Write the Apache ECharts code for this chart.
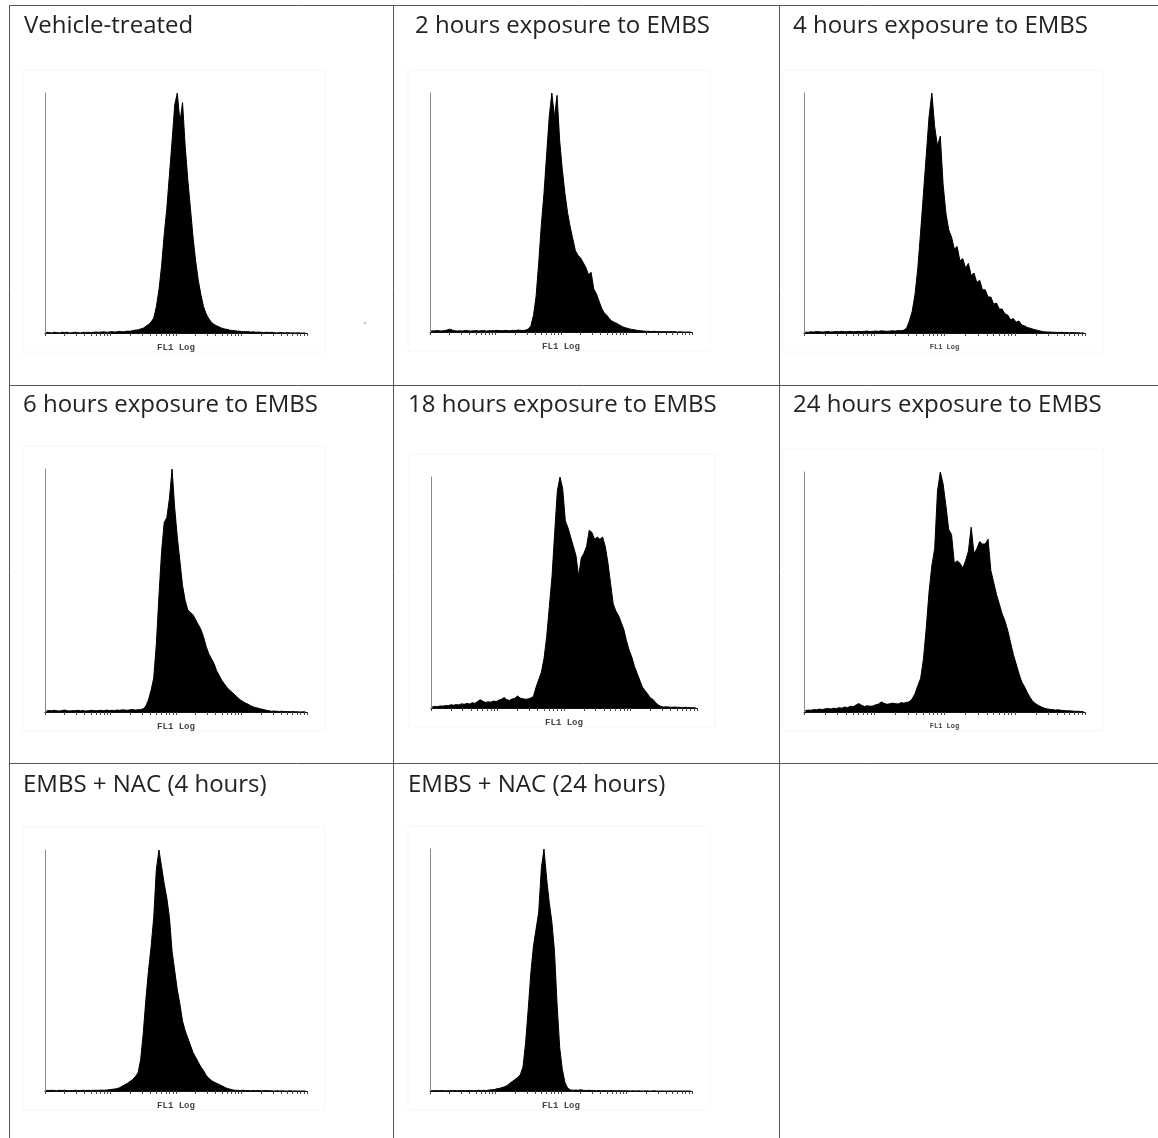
<!DOCTYPE html>
<html><head><meta charset="utf-8">
<script src="https://cdn.jsdelivr.net/npm/echarts@6/dist/echarts.min.js"></script>
<style>html,body{margin:0;padding:0;background:#fff}#c{width:1158px;height:1138px}</style>
</head><body><div id="c"></div>
<script>
// Panel titles
const titles = [
  'Vehicle-treated', '2 hours exposure to EMBS', '4 hours exposure to EMBS',
  '6 hours exposure to EMBS', '18 hours exposure to EMBS', '24 hours exposure to EMBS',
  'EMBS + NAC (4 hours)', 'EMBS + NAC (24 hours)'
];
const axisName = 'FL1 Log';
// Decades of the log FL1 axis (10^0 .. 10^4)
const decades = [0, 1, 2, 3, 4];

// Histogram counts (% of peak), 100 log-spaced channels each
const vehicle = [
  0.3,0.2,0,0.3,0.2,0,0.3,0.2,0.3,0,
  0.2,0.3,0.2,0,0.3,0.2,0.3,0.2,0.3,0.4,
  0.3,0.4,0.5,0.3,0.4,0.6,0.4,0.5,0.7,0.5,
  0.6,0.8,0.7,1.0,1.2,1.3,1.7,2.0,2.8,3.5,
  4.6,6.2,11,18,28,41,52,66,80,95,
  100,88,96,78,64,52,40,30,22,16,
  11,8,6,4.5,3.6,3,2.5,2,1.7,1.5,
  1.2,1,0.9,0.8,0.7,0.6,0.5,0.6,0.4,0.5,
  0.3,0.4,0.3,0.2,0.3,0.2,0.3,0.2,0,0.2,
  0.2,0,0.2,0,0.1,0,0.1,0,0,0
];
const embs2h = [
  0.5,0.4,0.6,0.5,0.4,0.6,0.8,1.2,0.8,0.5,
  0.4,0.5,0.4,0.6,0.5,0.4,0.5,0.6,0.4,0.5,
  0.6,0.4,0.5,0.6,0.5,0.7,0.6,0.5,0.7,0.6,
  0.5,0.7,0.6,0.8,0.7,0.6,0.8,1.2,2.5,7,
  15,29,45,58,74,90,100,90,99,80,
  68,58,50,44,39,34,32,31,29,27,
  24,25,18,16,13,10,8,7,5.5,4.5,
  4,3.5,2.8,2.2,1.8,1.5,1.2,1,0.8,0.6,
  0.5,0.4,0.3,0.3,0.2,0.3,0.2,0.2,0.1,0.2,
  0.1,0.1,0.2,0.1,0,0.1,0,0,0,0
];
const embs4h = [
  0.4,0.3,0.5,0.4,0.6,0.5,0.4,0.5,0.6,0.4,
  0.5,0.6,0.5,0.7,0.5,0.6,0.7,0.5,0.6,0.7,
  0.6,0.7,0.8,0.6,0.7,0.8,0.7,0.9,0.8,0.7,
  0.8,0.9,0.8,1.0,0.9,1.2,2,5,9,16,
  27,42,58,74,90,100,86,78,82,62,
  50,43,40,35,36,30,31,27,29,24,
  25,21,22,18,18,15,15,12,12.5,10,
  10,8,7.5,5.5,6,4.5,5,3.3,3,2.3,
  2,1.6,1.3,1,0.7,0.5,0.4,0.4,0.3,0.3,
  0.2,0.3,0.2,0.2,0.1,0.2,0.1,0.1,0,0.1
];
const embs6h = [
  0.4,0.6,0.5,0.7,0.5,0.4,0.6,0.8,0.5,0.4,
  0.6,0.5,0.7,0.5,0.6,0.4,0.5,0.7,0.6,0.5,
  0.6,0.7,0.5,0.8,0.6,0.7,0.6,0.8,0.7,0.9,
  0.8,0.7,0.9,1.0,0.8,0.9,1,1.3,2.5,5,
  9,14,28,48,66,78,80,88,100,84,
  72,62,52,46,42,41,40,38,36,34,
  31,27,24,22,20,17,15,13,11.5,10,
  9,8,7,6,5,4.3,3.7,3.2,2.6,2.1,
  1.8,1.5,1.2,1,0.7,0.5,0.3,0.4,0.3,0.2,
  0.3,0.2,0.2,0.1,0.2,0.1,0.1,0,0.1,0
];
const embs18h = [
  0.5,0.7,0.6,0.9,0.8,1.1,1,1.4,1.2,1.5,
  1.3,1.8,1.6,2,1.7,2.3,2,2.8,3.6,2.9,
  2.4,2.7,2.5,3,2.8,3.4,3.8,4.5,3.6,3.3,
  3.9,4.2,5.2,4.3,4,3.8,3.9,4.3,5,9,
  12.3,15.5,21.5,31,44,57,76,94,100,95,
  81,78,74,70,66,57,65,67,70,77,
  76,73,74,73,74,70,63,54,45,42,
  40,37,34,29,25,22,18,15,12,9,
  7.5,6,4.3,3.7,2.2,1.3,0.7,0.4,0.5,0.4,
  0.3,0.4,0.3,0.3,0.2,0.3,0.2,0.2,0.1,0.1
];
const embs24h = [
  0.6,0.8,0.7,1,0.9,1.2,1,1.3,1.5,1.2,
  1.6,1.4,1.8,1.6,2.1,1.8,2.4,2.2,2.9,3.5,
  2.8,2.3,2.6,2.4,2.5,3,3.3,4.2,3.6,3.2,
  3.4,3.7,3.5,3.3,3.9,3.7,4,4.3,5.5,7.6,
  11,14,22,35,50,61,68,92,100,95,
  86,76,74,62,63,62,60,63,67,77,
  66,68,71,70,70,72,59,54,49,45,
  41,38,34,29,24,20,16,12.5,10.5,8,
  6,4.3,3.4,2.7,2.1,1.6,1.3,1.1,1,0.8,
  0.9,0.7,0.6,0.5,0.5,0.4,0.3,0.3,0.2,0.2
];
const nac4h = [
  0.3,0.2,0.3,0.2,0.1,0.3,0.2,0.3,0.2,0.1,
  0.2,0.3,0.2,0.2,0.3,0.2,0.3,0.2,0.3,0.3,
  0.3,0.4,0.3,0.4,0.5,0.7,0.8,1,1.4,2,
  2.6,3.2,4,4.8,6,7.5,13,24,38,50,
  60,72,92,100,93,86,80,72,58,50,
  42,36,29,25,22,19,16,14,12,10,
  8.5,6.5,5.3,4.4,3.7,3.2,2.7,2.2,1.6,1.1,
  0.8,0.5,0.3,0.3,0.2,0.3,0.2,0.2,0.1,0.2,
  0.1,0.2,0.1,0.1,0.2,0.1,0.1,0,0.1,0,
  0.1,0,0,0.1,0,0,0,0,0,0
];
const nac24h = [
  0.2,0.1,0.2,0.1,0.2,0.1,0.1,0.2,0.1,0.2,
  0.1,0.2,0.2,0.1,0.2,0.2,0.1,0.2,0.3,0.2,
  0.3,0.2,0.4,0.5,0.6,0.9,1.1,1.4,1.8,2.3,
  3.2,4,4.8,5.6,6.8,10,20,34,49,60,
  67,74,92,100,88,78,70,58,36,18,
  9,3.5,1.2,0.5,0.3,0.4,0.3,0.5,0.3,0.2,
  0.3,0.2,0.2,0.1,0.2,0.1,0.2,0.1,0.1,0.2,
  0.1,0.1,0.1,0.1,0.1,0.1,0,0.1,0,0.1,
  0,0,0.1,0,0,0.1,0,0,0,0,
  0,0,0,0,0,0,0,0,0,0
];

const seriesData = [vehicle, embs2h, embs4h, embs6h, embs18h, embs24h, nac4h, nac24h];

// Layout (pixels)
const layout = [
  {grid:{left:45, top:93, width:262, height:240}, tx:24, ty:26, small:false},
  {grid:{left:430, top:93, width:262, height:239}, tx:415, ty:26, small:false},
  {grid:{left:804, top:93, width:281, height:240}, tx:793, ty:26, small:true},
  {grid:{left:45, top:469, width:262, height:243}, tx:23, ty:405, small:false},
  {grid:{left:431, top:477, width:266, height:231}, tx:408, ty:405, small:false},
  {grid:{left:804, top:472, width:281, height:240}, tx:793, ty:405, small:true},
  {grid:{left:45, top:850, width:262, height:241}, tx:23, ty:785, small:false},
  {grid:{left:430, top:849, width:262, height:242}, tx:408, ty:785, small:false}
];

const tickVals = [];
decades.forEach(d => {
  if (d < decades[decades.length - 1]) {
    for (let k = 1; k <= 9; k++) tickVals.push(d + Math.log10(k));
  } else tickVals.push(d);
});

const chart = echarts.init(document.getElementById('c'), null, {renderer:'canvas'});
const grids = [], xAxes = [], yAxes = [], series = [], graphics = [];

layout.forEach((p, i) => {
  grids.push(Object.assign({containLabel:false}, p.grid));
  xAxes.push({
    gridIndex:i, type:'value', min:0, max:4,
    axisLine:{show:true, onZero:false, lineStyle:{color:'#111', width:1}},
    axisTick:{show:true, customValues:tickVals, length:3, lineStyle:{color:'#444', width:1}},
    axisLabel:{show:false}, splitLine:{show:false},
    name:axisName, nameLocation:'middle', nameGap: p.small ? 11 : 10,
    nameTextStyle:{fontFamily:'Liberation Mono', fontSize: p.small ? 7 : 9,
      fontWeight:'bold', color:'#444'}
  });
  yAxes.push({
    gridIndex:i, type:'value', min:0, max:100,
    axisLine:{show:true, lineStyle:{color:'#888', width:1}},
    axisTick:{show:false}, axisLabel:{show:false}, splitLine:{show:false}
  });
  const n = seriesData[i].length;
  series.push({
    type:'line', xAxisIndex:i, yAxisIndex:i, symbol:'none',
    data: seriesData[i].map((v, j) => [(j + 0.5) * 4 / n, v]),
    lineStyle:{color:'#000', width:1}, areaStyle:{color:'#000', opacity:1},
    silent:true
  });
  const g = p.grid;
  graphics.push({type:'rect', z:-1, shape:{x:g.left-22, y:g.top-23, width:g.width+40, height:g.height+42},
    style:{fill:'none', stroke:'#f6f6f6', lineWidth:1}});
  graphics.push({type:'text', style:{text:titles[i], x:p.tx, y:p.ty, textVerticalAlign:'middle',
    fontFamily:'Open Sans', fontSize:24, fill:'#222'}});
});

// table rules
[5.5, 385.5, 763.5].forEach(y => graphics.push({type:'line', shape:{x1:9, y1:y, x2:1158, y2:y},
  style:{stroke:'#555', lineWidth:1}}));
[9.5, 393.5, 779.5].forEach(x => graphics.push({type:'line', shape:{x1:x, y1:5, x2:x, y2:1138},
  style:{stroke:'#555', lineWidth:1}}));
graphics.push({type:'circle', shape:{cx:365, cy:323, r:1.5}, style:{fill:'#cfcfcf'}});

chart.setOption({
  animation:false, backgroundColor:'#fff',
  grid:grids, xAxis:xAxes, yAxis:yAxes, series:series, graphic:graphics
});
</script></body></html>
